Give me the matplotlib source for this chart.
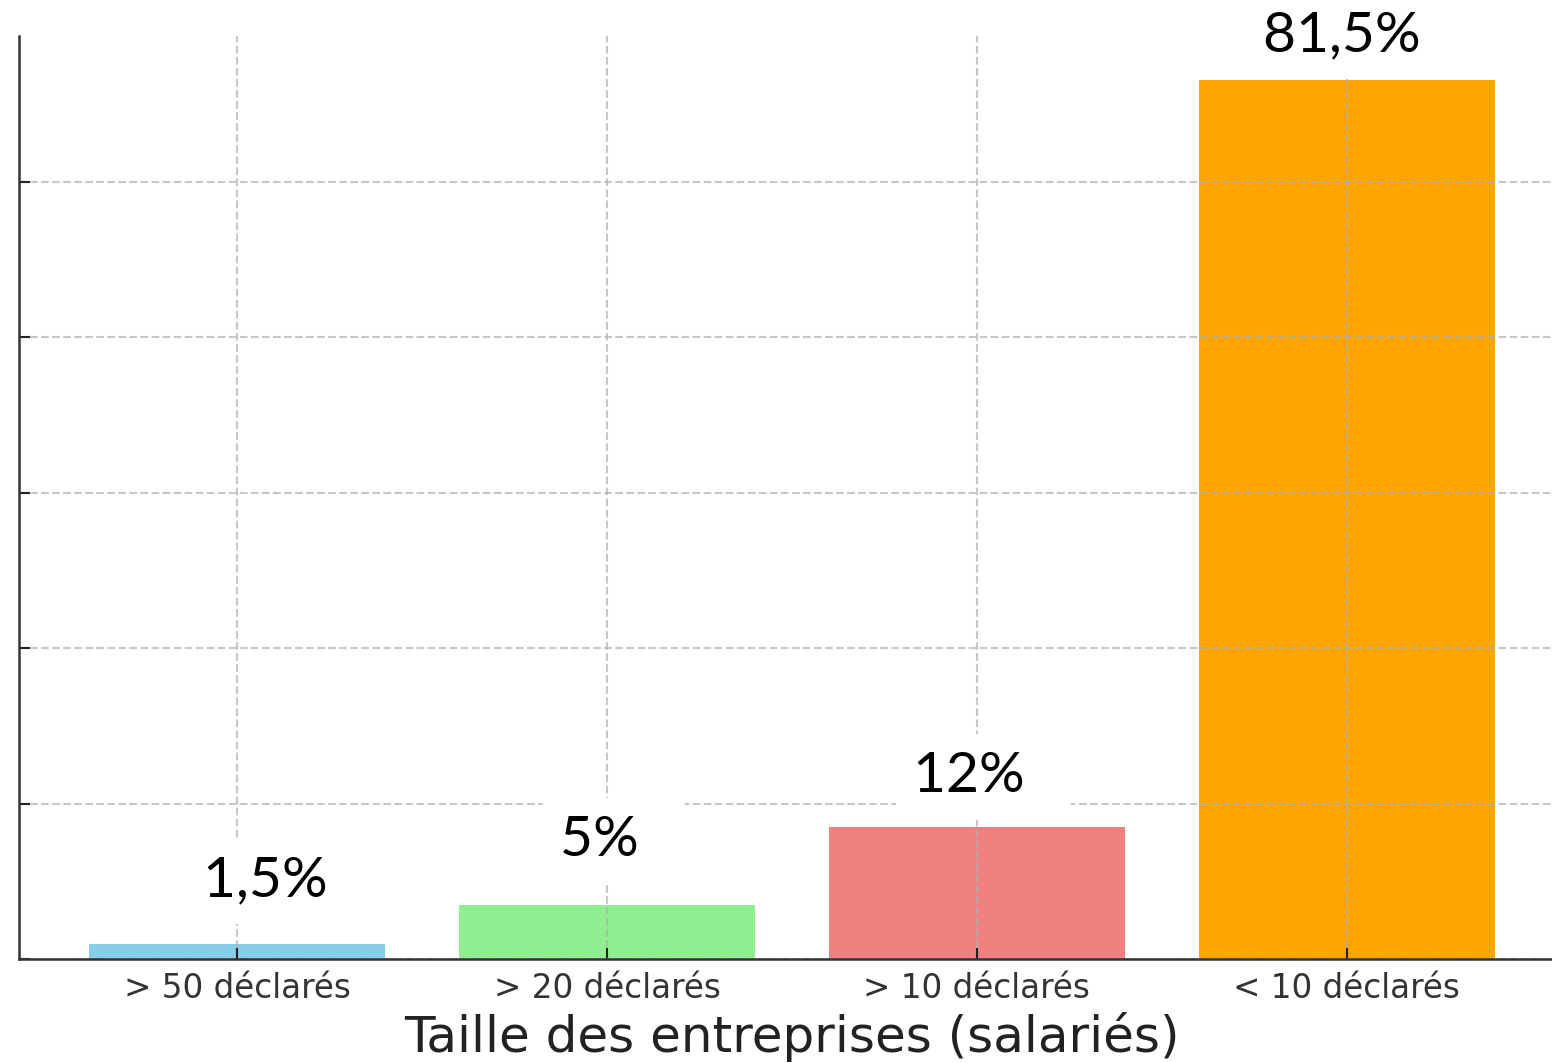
import matplotlib
matplotlib.use("Agg")
from matplotlib import pyplot as plt

# Données
categories = ["> 50 déclarés", "> 20 déclarés", "> 10 déclarés", "< 10 déclarés"]
counts = [2, 7, 17, 113]
labels = ["1,5%", "5%", "12%", "81,5%"]
colors = ["skyblue", "lightgreen", "lightcoral", "orange"]

# petits décalages des étiquettes (en points) par rapport au haut des barres
label_dx = [31, 5, 5, 7]
label_dy = [34, 35, 25, 21]

fig = plt.figure(figsize=(15.52, 10.63), dpi=100)
ax = fig.add_axes([0.01224, 0.0974, 0.9961, 0.8683])

x = range(len(categories))
ax.bar(x, counts, color=colors, width=0.8)

ax.set_xticks(list(x))
ax.set_xticklabels(categories, fontsize=23.5, color="#333333")
ax.set_xlabel("Taille des entreprises (salariés)", fontsize=36,
              color="#222222", labelpad=5)

ax.tick_params(direction="in", length=8, width=1.5, color="#222222", pad=9)
ax.tick_params(axis="y", labelleft=False)

ax.grid(True, linestyle="--", linewidth=1.5, alpha=0.7)

for side in ["top", "right"]:
    ax.spines[side].set_visible(False)
for side in ["left", "bottom"]:
    ax.spines[side].set_linewidth(1.8)
    ax.spines[side].set_color("#333333")

# étiquettes en pourcentage, avec fond blanc (un peu plus large à droite)
for i, (v, lab) in enumerate(zip(counts, labels)):
    ax.annotate(lab + "  ", xy=(i, v), xytext=(label_dx[i], label_dy[i]),
                textcoords="offset points", ha="center", va="baseline",
                fontsize=41, family="Lato", color="black",
                bbox=dict(boxstyle="square,pad=0.3", facecolor="white",
                          edgecolor="none"),
                annotation_clip=False)

fig.savefig("out.png", dpi=100)
